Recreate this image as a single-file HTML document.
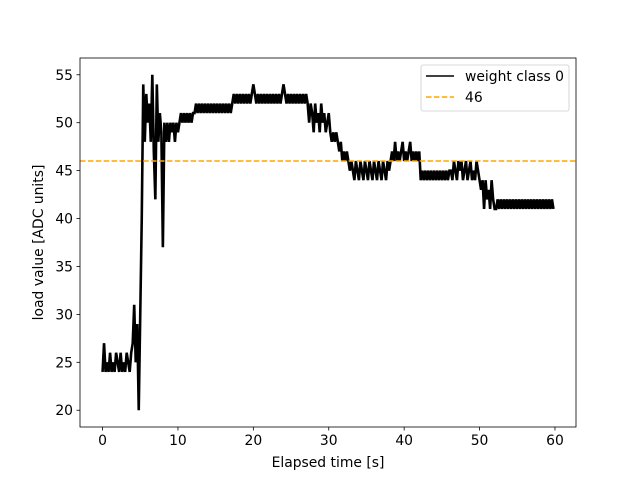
<!DOCTYPE html>
<html><head><meta charset="utf-8"><style>
body{margin:0;background:#fff}
svg{font-family:"DejaVu Sans","Liberation Sans",sans-serif}
</style></head><body>
<svg id="c" width="640" height="480" xmlns="http://www.w3.org/2000/svg"></svg>
<script>
const dt = 0.2;
const loadValues = [
24,27,24,25,24,26,24,25,24,26,25,24,26,24,25,24,26,25,24,26,
27,31,25,29,20,
30,40,54,
48,53,50,52,48,55,47,42,54,48,51,49,37,
50,48,50,48,50,49,50,48,50,49,
50,51,50,51,50,51,50,51,50,51,
51,52,51,52,51,52,51,52,51,52,51,52,51,52,51,52,51,52,51,52,51,52,51,52,51,
52,53,52,53,52,53,52,53,52,53,52,53,52,53,54,53,52,53,52,53,52,53,52,53,52,
53,52,53,52,53,52,53,52,53,54,53,52,53,52,53,52,53,52,53,52,53,52,53,52,53,
52,50,52,51,49,52,50,51,49,52,50,51,49,50,51,
49,48,49,48,49,48,47,48,46,47,46,47,46,45,46,
45,44,46,45,44,46,45,44,46,45,44,46,45,44,46,45,44,46,45,44,46,45,44,46,45,
46,47,46,48,46,47,46,47,48,46,47,46,47,48,46,47,46,47,46,47,
44,45,44,45,44,45,44,45,44,45,44,45,44,45,44,45,44,45,44,45,
45,44,46,45,44,46,45,46,44,45,46,44,45,46,44,45,44,46,45,44,
43,44,41,44,42,43,41,44,42,41,
41,42,41,42,41,42,41,42,41,42,41,42,41,42,41,42,41,42,41,42,41,42,41,42,41,42,41,42,41,42,41,42,41,42,41,42,41,42,41];
const refValue = 46;
const xTicks = [0,10,20,30,40,50,60];
const yTicks = [20,25,30,35,40,45,50,55];
const L=80,R=576,T=58,B=427, xmin=-2.99,xmax=62.79, ymin=18.25,ymax=56.75;
const X=v=>L+(v-xmin)/(xmax-xmin)*(R-L);
const Y=v=>B-(v-ymin)/(ymax-ymin)*(B-T);
const s=document.getElementById('c');const NS='http://www.w3.org/2000/svg';
function mk(t,a,p){const e=document.createElementNS(NS,t);for(const k in a)e.setAttribute(k,a[k]);(p||s).appendChild(e);return e;}
let d='';loadValues.forEach((v,i)=>{d+=(i?'L':'M')+X(i*dt).toFixed(2)+' '+Y(v).toFixed(2);});
const ln=mk('path',{d:d,fill:'none',stroke:'#000','stroke-width':2.6,'stroke-linejoin':'miter','stroke-miterlimit':2});


const rl=mk('line',{x1:L,x2:R,y1:Y(refValue),y2:Y(refValue),stroke:'orange','stroke-width':1.5,'stroke-dasharray':'5.5,2.4'});


const fr=mk('rect',{x:L,y:T,width:R-L,height:B-T,fill:'none',stroke:'#000','stroke-width':0.8});


xTicks.forEach(v=>{const x=X(v);
mk('line',{x1:x,x2:x,y1:B,y2:B+3.5,stroke:'#000','stroke-width':0.8});
const t=mk('text',{x:x,y:B+18,'text-anchor':'middle','font-size':13.9});t.textContent=v;

});
yTicks.forEach(v=>{const y=Y(v);
mk('line',{x1:L-3.5,x2:L,y1:y,y2:y,stroke:'#000','stroke-width':0.8});
const t=mk('text',{x:L-7,y:y+5,'text-anchor':'end','font-size':13.9});t.textContent=v;

});
const xt=mk('text',{x:(L+R)/2,y:467,'text-anchor':'middle','font-size':13.9});xt.textContent='Elapsed time [s]';


const yt=mk('text',{x:0,y:0,'text-anchor':'middle','font-size':13.9,transform:`translate(43,${(T+B)/2}) rotate(-90)`});yt.textContent='load value [ADC units]';


const lg=mk('g',{});


mk('rect',{x:421,y:65,width:148,height:46,rx:2,fill:'#fff','fill-opacity':0.8,stroke:'#ccc','stroke-width':0.8},lg);
mk('line',{x1:426,x2:454,y1:76,y2:76,stroke:'#000','stroke-width':1.5},lg);
const l1=mk('text',{x:465,y:81,'font-size':13.9},lg);l1.textContent='weight class 0';


mk('line',{x1:426,x2:454,y1:97,y2:97,stroke:'orange','stroke-width':1.5,'stroke-dasharray':'5.5,2.4'},lg);
const l2=mk('text',{x:465,y:102,'font-size':13.9},lg);l2.textContent='46';


</script>
</body></html>
